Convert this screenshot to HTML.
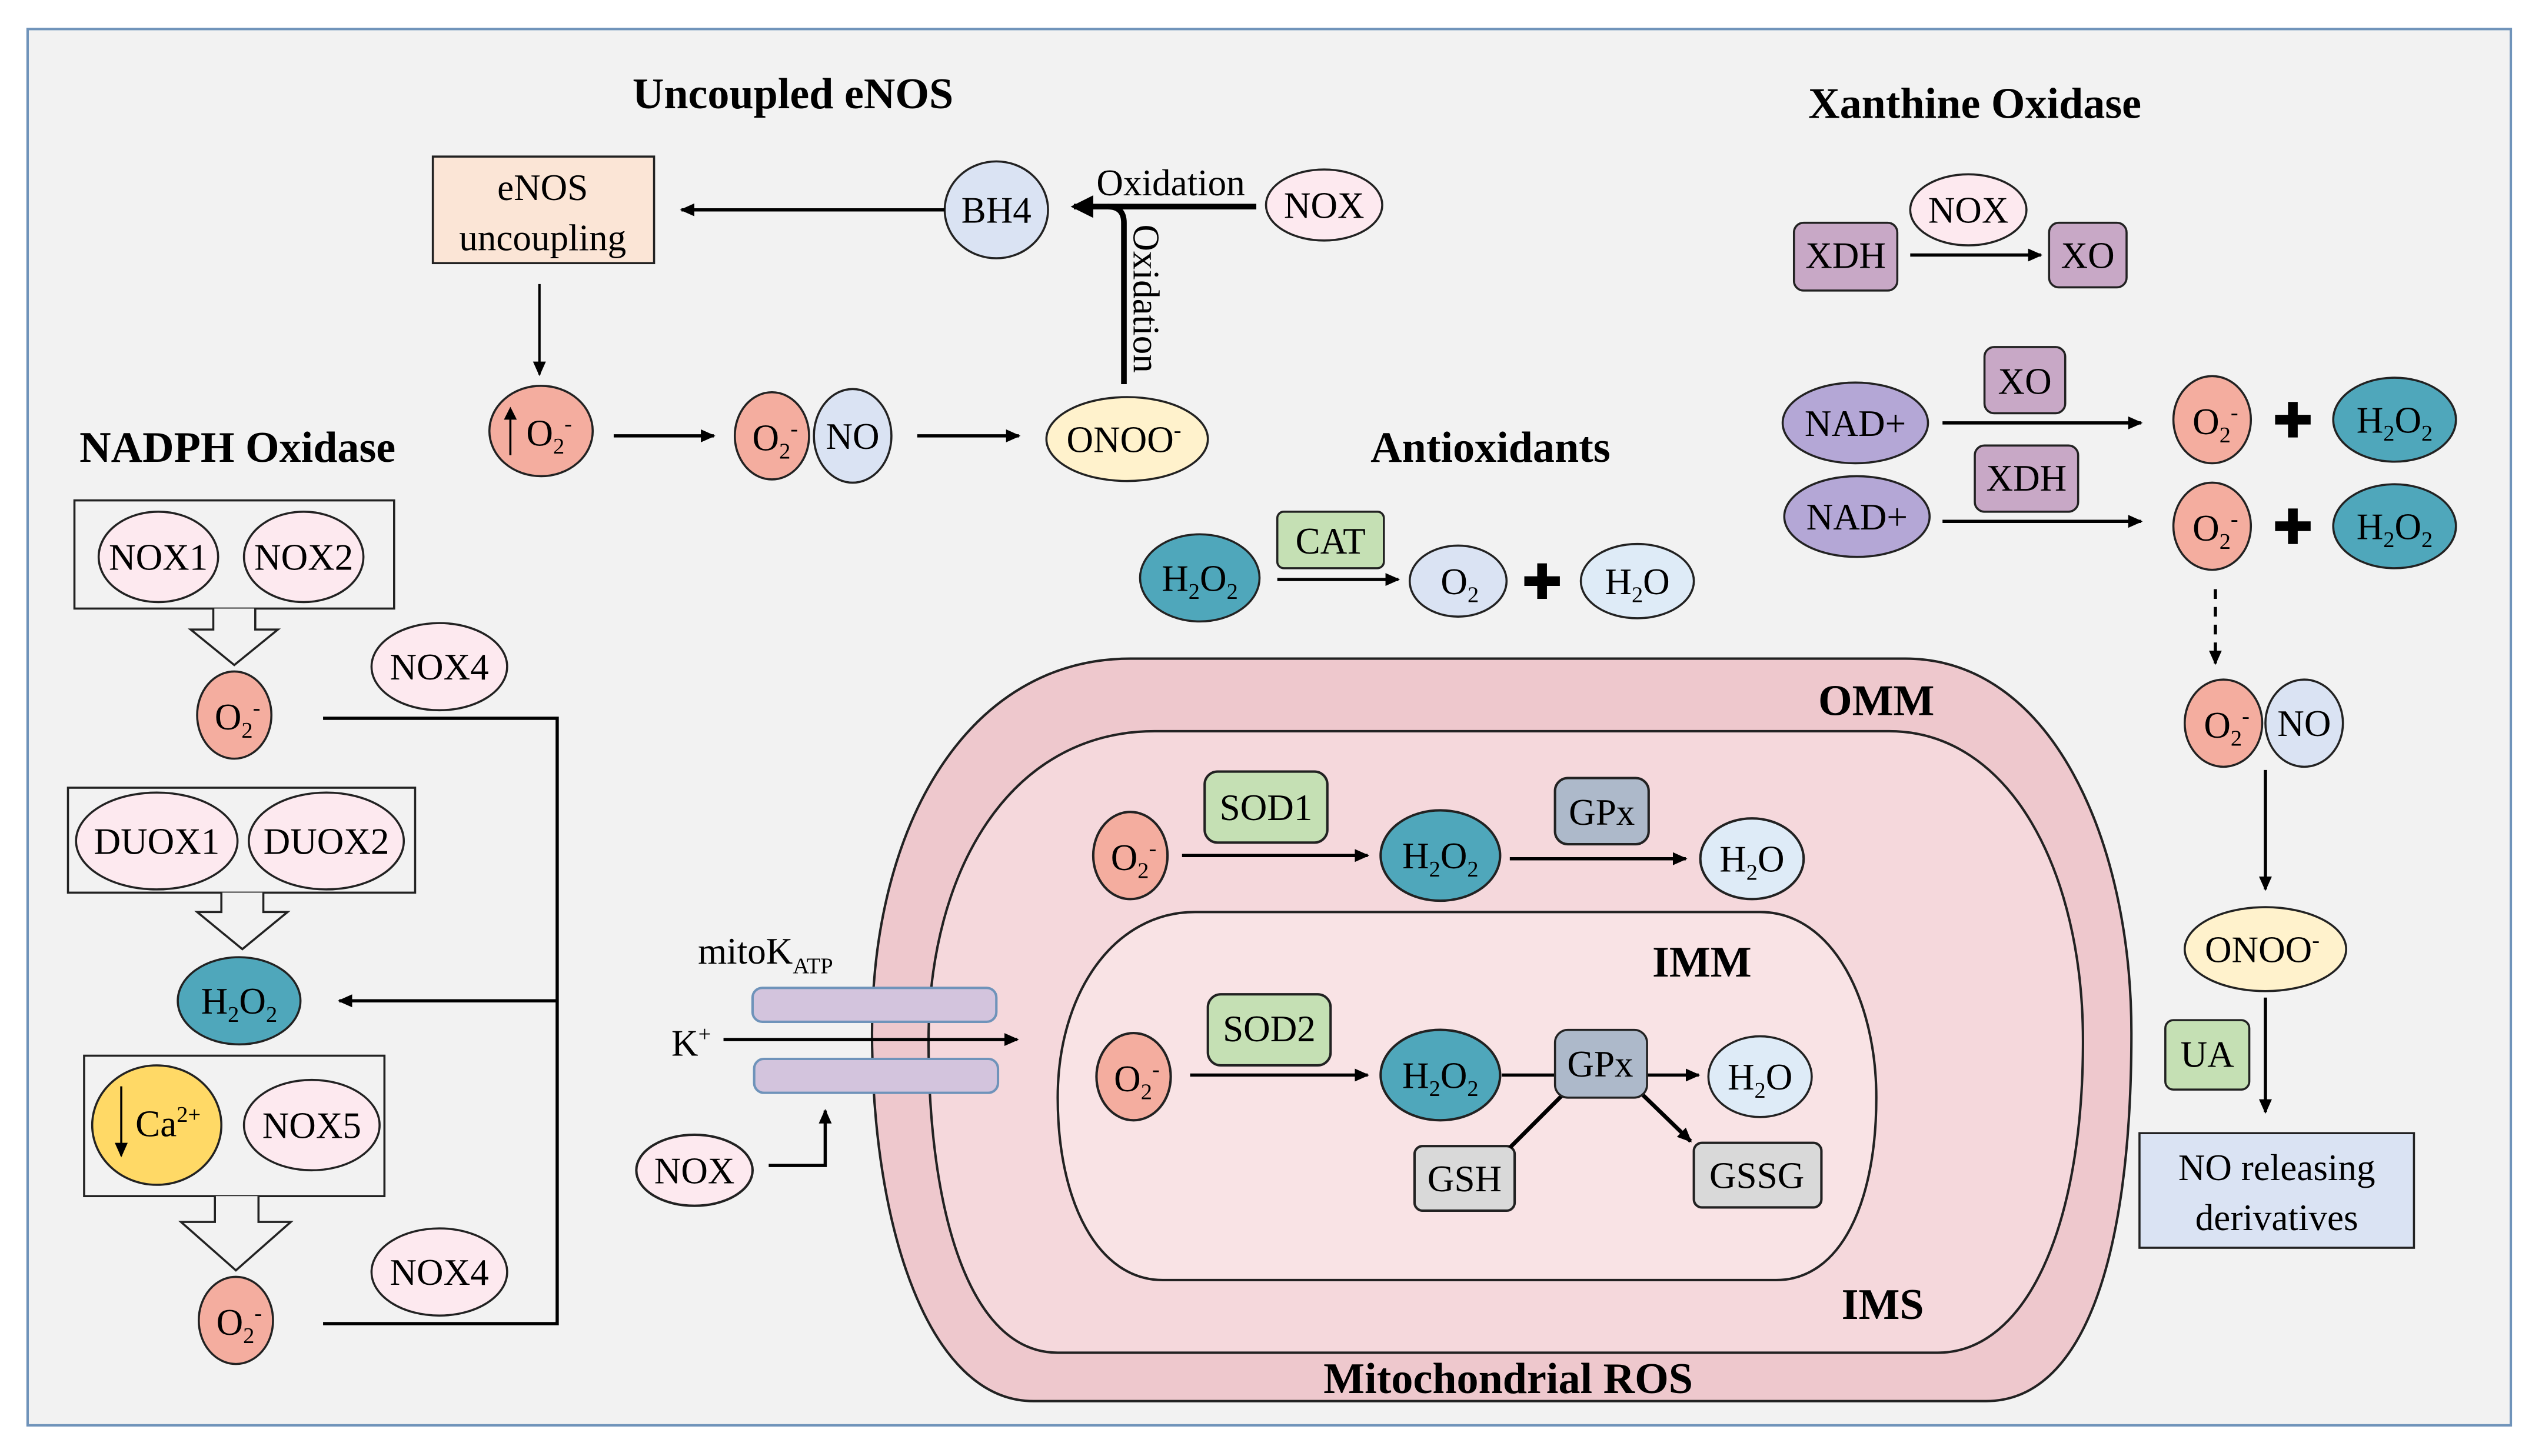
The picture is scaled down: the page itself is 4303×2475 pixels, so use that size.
<!DOCTYPE html>
<html><head><meta charset="utf-8"><style>
html,body{margin:0;padding:0;background:#fff;}
svg{display:block;}
svg text{font-family:"Liberation Serif","Times New Roman",serif !important;fill:#000;}
.t{font-size:23px;text-anchor:middle;}
.h{font-size:27px;font-weight:bold;text-anchor:middle;}
</style></head><body>
<svg width="4303" height="2475" viewBox="0 0 1568 902" xmlns="http://www.w3.org/2000/svg" font-family="Liberation Serif, serif">
<defs>
<marker id="a" markerWidth="10" markerHeight="10" refX="8" refY="5" orient="auto" markerUnits="userSpaceOnUse"><path d="M0,1 L9,5 L0,9 Z" fill="#000"/></marker>
<marker id="b" markerWidth="16" markerHeight="16" refX="12" refY="8" orient="auto" markerUnits="userSpaceOnUse"><path d="M0,1 L14,8 L0,15 Z" fill="#000"/></marker>
</defs>
<rect x="0" y="0" width="1568" height="902" fill="#fff"/>
<rect x="17" y="18" width="1538" height="865" fill="#f2f2f2" stroke="#6f93ba" stroke-width="1.5"/>
<g stroke="#222" stroke-width="1.3">
<rect x="268" y="97" width="137" height="66" fill="#fbe5d6"/>
<ellipse cx="617" cy="130" rx="32" ry="30" fill="#dae3f3"/>
<ellipse cx="820" cy="127" rx="36" ry="22" fill="#fde9ef"/>
<ellipse cx="335" cy="267" rx="32" ry="28" fill="#f4ad9f"/>
<ellipse cx="478" cy="270" rx="23" ry="27" fill="#f4ad9f"/>
<ellipse cx="528" cy="270" rx="24" ry="29" fill="#dae3f3"/>
<ellipse cx="698" cy="272" rx="50" ry="26" fill="#fff2cc"/>
<rect x="46" y="310" width="198" height="67" fill="none"/>
<ellipse cx="98" cy="345" rx="37" ry="28" fill="#fde9ef"/>
<ellipse cx="188" cy="345" rx="37" ry="28" fill="#fde9ef"/>
<path d="M132,377 V390 H118 L145,412 L172,390 H158 V377" fill="#f2f2f2"/>
<ellipse cx="145" cy="443" rx="23" ry="27" fill="#f4ad9f"/>
<ellipse cx="272" cy="413" rx="42" ry="27" fill="#fde9ef"/>
<rect x="42" y="488" width="215" height="65" fill="none"/>
<ellipse cx="97" cy="521" rx="50" ry="30" fill="#fde9ef"/>
<ellipse cx="202" cy="521" rx="48" ry="30" fill="#fde9ef"/>
<path d="M137,553 V565 H122 L150,588 L178,565 H163 V553" fill="#f2f2f2"/>
<ellipse cx="148" cy="620" rx="38" ry="27" fill="#4fa7bb"/>
<rect x="52" y="654" width="186" height="87" fill="none"/>
<ellipse cx="97" cy="697" rx="40" ry="37" fill="#ffd966"/>
<ellipse cx="193" cy="697" rx="42" ry="28" fill="#fde9ef"/>
<path d="M133,741 V757 H112 L146,787 L180,757 H160 V741" fill="#f2f2f2"/>
<ellipse cx="146" cy="818" rx="23" ry="27" fill="#f4ad9f"/>
<ellipse cx="272" cy="788" rx="42" ry="27" fill="#fde9ef"/>
</g>
<g stroke="#000" stroke-width="2" fill="none">
<path d="M200,445 H345 V820 H200"/>
<line x1="345" y1="620" x2="210" y2="620" marker-end="url(#a)"/>
<line x1="585" y1="130" x2="422" y2="130" marker-end="url(#a)"/>
<line x1="334" y1="176" x2="334" y2="232" marker-end="url(#a)" stroke-width="1.5"/>
<line x1="380" y1="270" x2="442" y2="270" marker-end="url(#a)"/>
<line x1="568" y1="270" x2="631" y2="270" marker-end="url(#a)"/>
<path d="M778,128 H665" stroke-width="3.5" marker-end="url(#b)"/>
<path d="M696,238 V138 Q696,128 686,128" stroke-width="3.5"/>
<line x1="75" y1="673" x2="75" y2="716" stroke-width="1.3" marker-end="url(#a)"/>
</g>
<g stroke="#222" stroke-width="1.3">
<ellipse cx="743" cy="358" rx="37" ry="27" fill="#4fa7bb"/>
<rect x="791" y="317" width="66" height="35" rx="4" fill="#c5e0b4"/>
<ellipse cx="903" cy="360" rx="30" ry="22" fill="#dae3f3"/>
<ellipse cx="1014" cy="360" rx="35" ry="23" fill="#deebf7"/>
</g>
<line x1="791" y1="359" x2="866" y2="359" stroke="#000" stroke-width="2" marker-end="url(#a)"/>
<path d="M955,349 V371 M944,360 H966" stroke="#000" stroke-width="6"/>
<g stroke="#222" stroke-width="1.5">
<path d="M700,408 H1180 C1270,408 1320,520 1320,640 C1320,780 1290,868 1230,868 H640 C575,868 540,760 540,640 C540,510 600,408 700,408 Z" fill="#eec8cd"/>
<path d="M715,453 H1170 C1245,453 1290,540 1290,645 C1290,760 1255,838 1200,838 H655 C600,838 575,750 575,645 C575,540 625,453 715,453 Z" fill="#f5d8dc"/>
<path d="M740,565 H1090 C1135,565 1162,620 1162,680 C1162,745 1140,793 1100,793 H720 C680,793 655,745 655,680 C655,615 690,565 740,565 Z" fill="#f9e3e5"/>
<ellipse cx="700" cy="530" rx="23" ry="27" fill="#f4ad9f"/>
<rect x="746" y="478" width="76" height="44" rx="8" fill="#c5e0b4"/>
<ellipse cx="892" cy="530" rx="37" ry="28" fill="#4fa7bb"/>
<rect x="963" y="482" width="58" height="41" rx="8" fill="#adb9ca"/>
<ellipse cx="1085" cy="532" rx="32" ry="25" fill="#deebf7"/>
<ellipse cx="702" cy="667" rx="23" ry="27" fill="#f4ad9f"/>
<rect x="748" y="616" width="76" height="44" rx="8" fill="#c5e0b4"/>
<ellipse cx="892" cy="666" rx="37" ry="28" fill="#4fa7bb"/>
<rect x="876" y="710" width="62" height="40" rx="5" fill="#d9d9d9"/>
<rect x="1049" y="708" width="79" height="40" rx="5" fill="#d9d9d9"/>
<rect x="466" y="612" width="151" height="21" rx="6" fill="#d3c4dd" stroke="#6f93ba"/>
<rect x="467" y="656" width="151" height="21" rx="6" fill="#d3c4dd" stroke="#6f93ba"/>
<ellipse cx="430" cy="725" rx="36" ry="22" fill="#fde9ef"/>
</g>
<g stroke="#000" stroke-width="2" fill="none">
<line x1="732" y1="530" x2="847" y2="530" marker-end="url(#a)"/>
<line x1="935" y1="532" x2="1044" y2="532" marker-end="url(#a)"/>
<line x1="737" y1="666" x2="847" y2="666" marker-end="url(#a)"/>
<line x1="930" y1="666" x2="965" y2="666"/>
<line x1="1020" y1="666" x2="1052" y2="666" marker-end="url(#a)"/>
<line x1="968" y1="678" x2="935" y2="711" stroke-width="2.5"/>
<line x1="1015" y1="676" x2="1047" y2="707" stroke-width="2.5" marker-end="url(#a)"/>
<line x1="448" y1="644" x2="630" y2="644" marker-end="url(#a)"/>
<path d="M476,722 H511 V688" marker-end="url(#a)"/>
</g>
<g stroke="#222" stroke-width="1.3">
<rect x="963" y="638" width="57" height="42" rx="8" fill="#adb9ca"/>
<ellipse cx="1090" cy="667" rx="32" ry="25" fill="#deebf7"/>
</g>
<g stroke="#222" stroke-width="1.3">
<rect x="1111" y="138" width="64" height="42" rx="6" fill="#c8a8c6"/>
<ellipse cx="1219" cy="130" rx="36" ry="22" fill="#fde9ef"/>
<rect x="1269" y="138" width="48" height="40" rx="6" fill="#c8a8c6"/>
<ellipse cx="1149" cy="262" rx="45" ry="25" fill="#b4a7d6"/>
<rect x="1229" y="215" width="50" height="41" rx="6" fill="#c8a8c6"/>
<ellipse cx="1370" cy="260" rx="24" ry="27" fill="#f4ad9f"/>
<ellipse cx="1483" cy="260" rx="38" ry="26" fill="#4fa7bb"/>
<ellipse cx="1150" cy="320" rx="45" ry="25" fill="#b4a7d6"/>
<rect x="1223" y="276" width="64" height="41" rx="6" fill="#c8a8c6"/>
<ellipse cx="1370" cy="326" rx="24" ry="27" fill="#f4ad9f"/>
<ellipse cx="1483" cy="326" rx="38" ry="26" fill="#4fa7bb"/>
<ellipse cx="1377" cy="448" rx="24" ry="27" fill="#f4ad9f"/>
<ellipse cx="1427" cy="448" rx="24" ry="27" fill="#dae3f3"/>
<ellipse cx="1403" cy="588" rx="50" ry="26" fill="#fff2cc"/>
<rect x="1341" y="632" width="52" height="43" rx="5" fill="#c5e0b4"/>
<rect x="1325" y="702" width="170" height="71" fill="#dae3f3"/>
</g>
<g stroke="#000" stroke-width="2" fill="none">
<line x1="1183" y1="158" x2="1264" y2="158" marker-end="url(#a)"/>
<line x1="1203" y1="262" x2="1326" y2="262" marker-end="url(#a)"/>
<line x1="1203" y1="323" x2="1326" y2="323" marker-end="url(#a)"/>
<line x1="1372" y1="365" x2="1372" y2="411" stroke-dasharray="6,5" marker-end="url(#a)"/>
<line x1="1403" y1="477" x2="1403" y2="551" marker-end="url(#a)"/>
<line x1="1403" y1="618" x2="1403" y2="689" marker-end="url(#a)"/>
</g>
<path d="M1420,249 V271 M1409,260 H1431 M1420,315 V337 M1409,326 H1431" stroke="#000" stroke-width="6"/>
<g font-family="Liberation Serif, serif">
<text class="h" x="491" y="67">Uncoupled eNOS</text>
<text class="h" x="147" y="286">NADPH Oxidase</text>
<text class="h" x="923" y="286">Antioxidants</text>
<text class="h" x="1223" y="73">Xanthine Oxidase</text>
<text class="h" x="1162" y="443">OMM</text>
<text class="h" x="1054" y="605">IMM</text>
<text class="h" x="1166" y="817">IMS</text>
<text class="h" x="934" y="863">Mitochondrial ROS</text>
<text class="t" x="336" y="124">eNOS</text>
<text class="t" x="336" y="155">uncoupling</text>
<text class="t" x="617" y="138">BH4</text>
<text class="t" x="820" y="135">NOX</text>
<text class="t" x="725" y="121">Oxidation</text>
<text class="t" transform="translate(702,185) rotate(90)">Oxidation</text>
<text class="t" x="340" y="276">O<tspan font-size="14" dy="5">2</tspan><tspan font-size="14" dy="-14">-</tspan></text>
<path d="M316,282 V256" stroke="#000" stroke-width="1.3"/><path d="M312,260 L316,252 L320,260 Z"/>
<text class="t" x="480" y="279">O<tspan font-size="14" dy="5">2</tspan><tspan font-size="14" dy="-14">-</tspan></text>
<text class="t" x="528" y="278">NO</text>
<text class="t" x="696" y="280">ONOO<tspan font-size="14" dy="-9">-</tspan></text>
<text class="t" x="98" y="353">NOX1</text>
<text class="t" x="188" y="353">NOX2</text>
<text class="t" x="147" y="452">O<tspan font-size="14" dy="5">2</tspan><tspan font-size="14" dy="-14">-</tspan></text>
<text class="t" x="272" y="421">NOX4</text>
<text class="t" x="97" y="529">DUOX1</text>
<text class="t" x="202" y="529">DUOX2</text>
<text class="t" x="148" y="628">H<tspan font-size="14" dy="5">2</tspan><tspan dy="-5">O</tspan><tspan font-size="14" dy="5">2</tspan></text>
<text class="t" x="104" y="704">Ca<tspan font-size="14" dy="-9">2+</tspan></text>
<text class="t" x="193" y="705">NOX5</text>
<text class="t" x="148" y="827">O<tspan font-size="14" dy="5">2</tspan><tspan font-size="14" dy="-14">-</tspan></text>
<text class="t" x="272" y="796">NOX4</text>
<text class="t" x="743" y="366">H<tspan font-size="14" dy="5">2</tspan><tspan dy="-5">O</tspan><tspan font-size="14" dy="5">2</tspan></text>
<text class="t" x="824" y="343">CAT</text>
<text class="t" x="904" y="368">O<tspan font-size="14" dy="5">2</tspan></text>
<text class="t" x="1014" y="368">H<tspan font-size="14" dy="5">2</tspan><tspan dy="-5">O</tspan></text>
<text class="t" x="702" y="539">O<tspan font-size="14" dy="5">2</tspan><tspan font-size="14" dy="-14">-</tspan></text>
<text class="t" x="784" y="508">SOD1</text>
<text class="t" x="892" y="538">H<tspan font-size="14" dy="5">2</tspan><tspan dy="-5">O</tspan><tspan font-size="14" dy="5">2</tspan></text>
<text class="t" x="992" y="511">GPx</text>
<text class="t" x="1085" y="540">H<tspan font-size="14" dy="5">2</tspan><tspan dy="-5">O</tspan></text>
<text class="t" x="704" y="676">O<tspan font-size="14" dy="5">2</tspan><tspan font-size="14" dy="-14">-</tspan></text>
<text class="t" x="786" y="645">SOD2</text>
<text class="t" x="892" y="674">H<tspan font-size="14" dy="5">2</tspan><tspan dy="-5">O</tspan><tspan font-size="14" dy="5">2</tspan></text>
<text class="t" x="991" y="667">GPx</text>
<text class="t" x="1090" y="675">H<tspan font-size="14" dy="5">2</tspan><tspan dy="-5">O</tspan></text>
<text class="t" x="907" y="738">GSH</text>
<text class="t" x="1088" y="736">GSSG</text>
<text class="t" x="474" y="597">mitoK<tspan font-size="14" dy="6">ATP</tspan></text>
<text class="t" x="428" y="654">K<tspan font-size="14" dy="-9">+</tspan></text>
<text class="t" x="430" y="733">NOX</text>
<text class="t" x="1143" y="166">XDH</text>
<text class="t" x="1219" y="138">NOX</text>
<text class="t" x="1293" y="166">XO</text>
<text class="t" x="1149" y="270">NAD+</text>
<text class="t" x="1254" y="244">XO</text>
<text class="t" x="1150" y="328">NAD+</text>
<text class="t" x="1255" y="304">XDH</text>
<text class="t" x="1372" y="269">O<tspan font-size="14" dy="5">2</tspan><tspan font-size="14" dy="-14">-</tspan></text>
<text class="t" x="1483" y="268">H<tspan font-size="14" dy="5">2</tspan><tspan dy="-5">O</tspan><tspan font-size="14" dy="5">2</tspan></text>
<text class="t" x="1372" y="335">O<tspan font-size="14" dy="5">2</tspan><tspan font-size="14" dy="-14">-</tspan></text>
<text class="t" x="1483" y="334">H<tspan font-size="14" dy="5">2</tspan><tspan dy="-5">O</tspan><tspan font-size="14" dy="5">2</tspan></text>
<text class="t" x="1379" y="457">O<tspan font-size="14" dy="5">2</tspan><tspan font-size="14" dy="-14">-</tspan></text>
<text class="t" x="1427" y="456">NO</text>
<text class="t" x="1401" y="596">ONOO<tspan font-size="14" dy="-9">-</tspan></text>
<text class="t" x="1367" y="661">UA</text>
<text class="t" x="1410" y="731">NO releasing</text>
<text class="t" x="1410" y="762">derivatives</text>
</g>
</svg>
</body></html>
